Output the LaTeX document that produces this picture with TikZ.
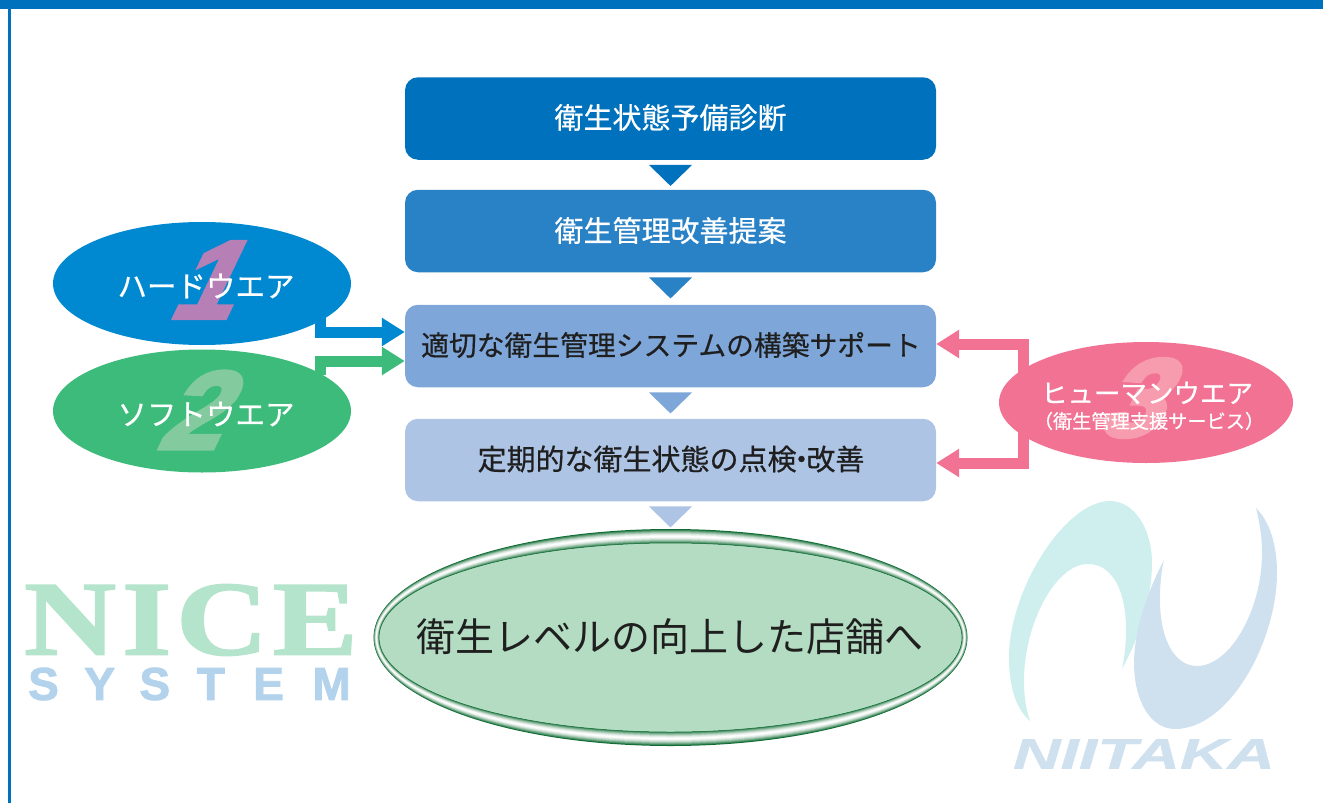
\documentclass[tikz,border=0pt]{standalone}
\usepackage{fontspec}
\setmainfont{Noto Sans CJK JP}
\newfontfamily\semifont[FakeBold=0.5]{Noto Sans CJK JP}
\newfontfamily\digitfont[FakeBold=4]{Liberation Sans Bold}
\newfontfamily\syslogo[FakeBold=2]{Liberation Sans Bold}
\newfontfamily\nikfont[FakeBold=0.8]{Liberation Sans Bold Italic}
\newfontfamily\serifl[FakeBold=1.5]{Liberation Serif Bold}
\usetikzlibrary{calc,arrows.meta,shapes.geometric}
\definecolor{frameblue}{HTML}{0071BC}
\definecolor{boxa}{HTML}{0071BC}
\definecolor{boxb}{HTML}{2981C6}
\definecolor{boxc}{HTML}{7EA6D9}
\definecolor{boxd}{HTML}{ADC4E5}
\definecolor{hwblue}{HTML}{0089D0}
\definecolor{swgreen}{HTML}{3DBB7B}
\definecolor{hmpink}{HTML}{F27294}
\definecolor{digone}{HTML}{B67FB5}
\definecolor{digtwo}{HTML}{84CA9F}
\definecolor{digthree}{HTML}{F79BAE}
\definecolor{goalfill}{HTML}{B3DCC2}
\definecolor{goaledge}{HTML}{0E6B32}
\definecolor{nicecol}{HTML}{B4E4CC}
\definecolor{syscol}{HTML}{B3D3EC}
\definecolor{nteal}{HTML}{CEEFEE}
\definecolor{nblue}{HTML}{CFE1EF}
\newcommand{\fsz}[1]{\fontsize{#1}{#1}\selectfont}
\tikzset{
  stepbox/.style={draw=none,rounded corners=13pt,minimum width=531pt,minimum height=82.5pt,inner sep=0pt},
  steptext/.style={inner sep=0pt,text=white,font=\semifont\fsz{29}},
  oval/.style={ellipse,draw=none,inner sep=0pt,minimum width=298pt,minimum height=123pt},
  whitetext/.style={text=white,inner sep=0pt},
  bignum/.style={inner sep=0pt,font=\digitfont\fsz{110},xslant=0.48,transform shape},
  blockarrow/.style={line width=11pt,-{Triangle[length=23pt,width=27pt]}},
}
\newcommand{\downtri}[2]{\fill[#2] ($(#1.south)+(-21.5,5)$) -- ($(#1.south)+(21.5,5)$) -- ($(#1.south)+(0,26)$) -- cycle;}
\begin{document}
\begin{tikzpicture}[x=1pt,y=-1pt]
\useasboundingbox (0,0) rectangle (1323,803);
% frame
\fill[frameblue] (0,0) rectangle (1323,9);
\fill[frameblue] (8,0) rectangle (10.8,803);
% step boxes
\node[stepbox,fill=boxa] (b1) at (670.5,118.5) {};
\node[stepbox,fill=boxb] (b2) at (670.5,231) {};
\node[stepbox,fill=boxc] (b3) at (670.5,346) {};
\node[stepbox,fill=boxd] (b4) at (670.5,460) {};
\node[steptext] (t1) at (670.5,117.5) {衛生状態予備診断};
\node[steptext] (t2) at (670.5,230.5) {衛生管理改善提案};
\node[steptext,text=black!88,font=\semifont\fsz{27.8}] (t3) at (671,345) {適切な衛生管理システムの構築サポート};
\node[steptext,text=black!88,font=\semifont\fsz{29}] (t4) at (671,459) {定期的な衛生状態の点検\kern-.33em・\kern-.33em 改善};
\downtri{b1}{boxa}
\downtri{b2}{boxb}
\downtri{b3}{boxc}
\downtri{b4}{boxd}
% goal ellipse, bevelled ring
\coordinate (gc) at (670.5,637.5);
\foreach \i in {0,...,14}{
  \pgfmathsetmacro{\rx}{297-\i*5.5/14}
  \pgfmathsetmacro{\ry}{108.5-\i*14/14}
  \pgfmathsetmacro{\mx}{100*min(1,abs(\i-7)/7)^1.6}
  \fill[goaledge!\mx!white] (gc) ellipse [x radius=\rx,y radius=\ry];
}
\node[ellipse,fill=goalfill,draw=goaledge,line width=.5pt,inner sep=0pt,minimum width=583pt,minimum height=189pt] (goal) at (gc) {};
\node[inner sep=0pt,font=\fsz{39},text=black!88] (tgoal) at (669.5,637) {衛生レベルの向上した店舗へ};
% left ovals
\node[oval,fill=hwblue] (hw) at (202,283.5) {};
\node[oval,fill=swgreen] (sw) at (202,411) {};
\node[bignum,text=digone] (n1) at (216,280) {1};
\node[bignum,text=digtwo] (n2) at (205,410) {2};
\node[whitetext,font=\semifont\fsz{29.5}] (thw) at (206,286) {ハードウエア};
\node[whitetext,font=\semifont\fsz{29.5}] (tsw) at (206,414) {ソフトウエア};
\coordinate (hwout) at ($(hw.center)+(118,34)$);
\coordinate (swout) at ($(sw.center)+(118,-36)$);
\draw[blockarrow,hwblue] (hwout) |- ($(b3.west)+(0,-14)$);
\draw[blockarrow,swgreen] (swout) |- ($(b3.west)+(0,15)$);
% right oval
\node[oval,fill=hmpink,minimum width=294pt,minimum height=121pt] (hm) at (1146,402.5) {};
\node[bignum,text=digthree] (n3) at (1144,398) {3};
\node[whitetext,font=\semifont\fsz{26.5}] (thm) at (1147,393) {ヒューマンウエア};
\node[whitetext,font=\semifont\fsz{19.2}] (thm2) at (1149,421) {（衛生管理支援サービス）};
\coordinate (hmj) at ($(hm.center)+(-122.5,0)$);
\draw[blockarrow,hmpink] (hmj) |- ($(b3.east)+(0,-2)$);
\draw[blockarrow,hmpink] (hmj) |- ($(b4.east)+(0,3)$);
% NICE SYSTEM logo
\node[inner sep=0pt,text=nicecol,font=\serifl\fsz{106},xscale=1.2,transform shape] (nice) at (191,620) {N\kern5pt I\kern4pt C\kern4pt E};
\node[inner sep=0pt,text=syscol,font=\syslogo\fsz{46}] (sys) at (189.5,684) {S\kern25.5pt Y\kern24.5pt S\kern26.5pt T\kern28.5pt E\kern28.5pt M};
% NIITAKA logo
\fill[nteal] (1030,721) .. controls (1015,708) and (1009,685) .. (1009,657)
  .. controls (1009,590) and (1065,501) .. (1110,501)
  .. controls (1135,501) and (1152,530) .. (1152,563)
  .. controls (1152,600) and (1138,640) .. (1122,669)
  .. controls (1125,655) and (1126,642) .. (1126,630)
  .. controls (1126,590) and (1112,564) .. (1088,564)
  .. controls (1055,564) and (1024,625) .. (1024,680)
  .. controls (1024,700) and (1027,712) .. (1030,721) -- cycle;
\fill[nblue] (1164,560) .. controls (1148,590) and (1134,630) .. (1134,663)
  .. controls (1134,700) and (1150,729) .. (1175,729)
  .. controls (1230,729) and (1277,640) .. (1277,573)
  .. controls (1277,545) and (1270,522) .. (1256,508)
  .. controls (1259,520) and (1262,535) .. (1262,553)
  .. controls (1262,610) and (1230,666) .. (1197,666)
  .. controls (1175,666) and (1160,640) .. (1160,600)
  .. controls (1160,585) and (1161,572) .. (1164,560) -- cycle;
\node[inner sep=0pt,text=nblue,font=\nikfont\fsz{43},xscale=1.53,transform shape] (nt) at (1144,754) {NIITAKA};
\end{tikzpicture}
\end{document}
